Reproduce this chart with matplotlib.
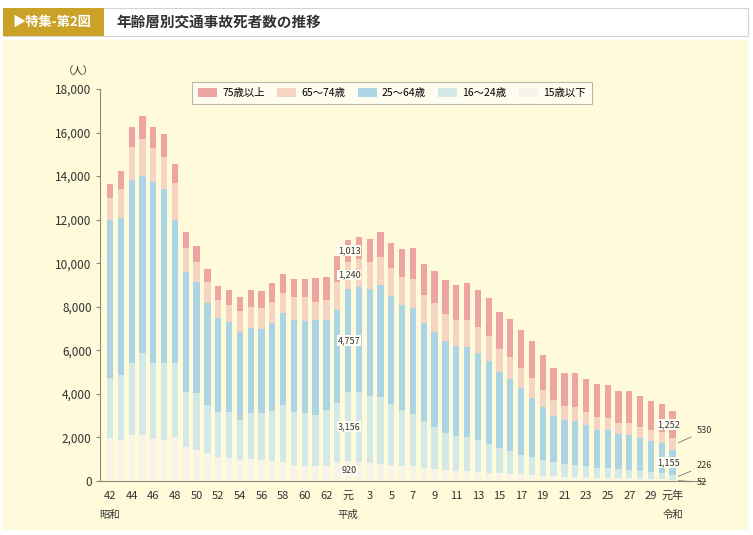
import numpy as np
import matplotlib
matplotlib.use("Agg")
import matplotlib.pyplot as plt
from matplotlib.patches import Rectangle

plt.rcParams['font.family'] = ['Noto Sans CJK JP', 'DejaVu Sans']

# 昭和42年(1967) ～ 令和元年(2019)
years = list(range(1967, 2020))

# 年齢層別死者数（人）
age_under15 = [1970, 1880, 2110, 2120, 1950, 1900, 2030, 1550, 1420, 1280,
               1100, 1050, 950, 1000, 950, 900, 850, 750, 700, 700,
               700, 850, 920, 870, 820, 790, 740, 700, 690, 600,
               560, 520, 480, 460, 420, 380, 350, 330, 300, 280,
               250, 230, 200, 200, 170, 160, 150, 130, 130, 110,
               100, 90, 52]
age_16_24 = [2760, 2990, 3310, 3760, 3470, 3500, 3390, 2550, 2620, 2210,
             2080, 2100, 1850, 2100, 2150, 2300, 2640, 2430, 2400, 2330,
             2550, 2750, 3156, 3200, 3100, 3050, 2800, 2550, 2400, 2150,
             1900, 1700, 1600, 1550, 1450, 1300, 1150, 1050, 900, 800,
             700, 620, 560, 550, 500, 450, 440, 400, 380, 350,
             320, 290, 226]
age_25_64 = [7250, 7200, 8400, 8120, 8320, 8000, 6560, 5510, 5110, 4680,
             4300, 4160, 4060, 3920, 3900, 4050, 4220, 4210, 4250, 4360,
             4140, 4250, 4757, 4850, 4900, 5150, 4950, 4850, 4850, 4500,
             4400, 4200, 4100, 4150, 4000, 3850, 3500, 3300, 3050, 2750,
             2450, 2150, 2050, 2000, 1900, 1750, 1730, 1620, 1600, 1500,
             1400, 1350, 1155]
age_65_74 = [1000, 1350, 1500, 1700, 1550, 1500, 1690, 1090, 920, 980,
             830, 790, 940, 980, 950, 950, 920, 1070, 1100, 840,
             910, 1300, 1240, 1260, 1230, 1300, 1280, 1290, 1350, 1300,
             1300, 1250, 1230, 1250, 1200, 1150, 1050, 1000, 950, 880,
             780, 700, 650, 640, 600, 580, 560, 530, 570, 540,
             540, 530, 530]
age_over75 = [638, 836, 937, 1065, 988, 1018, 904, 732, 722, 584,
              635, 683, 666, 760, 769, 873, 890, 802, 811, 1087,
              1047, 1194, 1013, 1047, 1059, 1162, 1172, 1259, 1394, 1393,
              1482, 1544, 1602, 1663, 1687, 1716, 1718, 1756, 1737, 1705,
              1616, 1509, 1519, 1558, 1521, 1498, 1508, 1433, 1437, 1404,
              1334, 1272, 1252]

series = [
    ("15歳以下", age_under15, "#F7F3E8"),
    ("16～24歳", age_16_24, "#D2E9E8"),
    ("25～64歳", age_25_64, "#ABD5E5"),
    ("65～74歳", age_65_74, "#F6D4C4"),
    ("75歳以上", age_over75, "#ECA5A2"),
]

tick_labels = {1967: "42", 1989: "元", 2019: "元年"}
for y in range(1969, 1988, 2):
    tick_labels[y] = str(y - 1925)
for y in range(1991, 2018, 2):
    tick_labels[y] = str(y - 1988)
era_labels = {1967: "昭和", 1989: "平成", 2019: "令和"}

W, H = 753, 535
fig = plt.figure(figsize=(W / 100, H / 100), dpi=100)
fig.patch.set_facecolor("white")

# ヘッダーと背景
fig.patches.append(Rectangle((3 / W, 1 - 530 / H), 745 / W, 490 / H,
                             transform=fig.transFigure, fc="#FFFADA", ec="none", zorder=0))
fig.patches.append(Rectangle((3 / W, 1 - 36 / H), 745 / W, 28 / H,
                             transform=fig.transFigure, fc="white", ec="#D8D4C8", lw=0.8, zorder=0))
fig.patches.append(Rectangle((3 / W, 1 - 36 / H), 101 / W, 28 / H,
                             transform=fig.transFigure, fc="#C9A227", ec="none", zorder=1))
fig.text(12 / W, 1 - 22 / H, "▶特集-第2図", color="white", fontsize=9.5,
         fontweight="bold", va="center", ha="left")
fig.text(116 / W, 1 - 22 / H, "年齢層別交通事故死者数の推移", color="#333333",
         fontsize=10.5, fontweight="bold", va="center", ha="left")

ax = fig.add_axes([100 / W, 1 - 481 / H, 605 / W, 392 / H])
ax.set_facecolor("none")
ax.set_zorder(3)

x = np.arange(len(years))
bottom = np.zeros(len(years))
bars = {}
for name, vals, color in series:
    vals = np.array(vals, dtype=float)
    bars[name] = ax.bar(x, vals, width=0.58, bottom=bottom, color=color,
                        edgecolor="none", label=name, zorder=2)
    bottom = bottom + vals

ax.set_xlim(-0.93, 55.0)
ax.set_ylim(0, 18000)
ax.set_yticks(np.arange(0, 18001, 2000))
ax.set_yticklabels([f"{v:,}" for v in range(0, 18001, 2000)])
ax.set_xticks(x)
ax.set_xticklabels([tick_labels.get(y, "") for y in years])
ax.tick_params(axis="x", direction="in", length=3, color="#8A8A70", labelsize=8,
               labelcolor="#333333", pad=7)
ax.tick_params(axis="y", direction="out", length=3, color="#8A8A70", labelsize=8.5,
               labelcolor="#333333", pad=3)
for s in ["top", "right"]:
    ax.spines[s].set_visible(False)
for s in ["left", "bottom"]:
    ax.spines[s].set_color("#8A8A70")
    ax.spines[s].set_linewidth(0.8)

for y, lab in era_labels.items():
    ax.text(years.index(y), -0.087, lab, transform=ax.get_xaxis_transform(),
            ha="center", va="center", fontsize=7.5, color="#333333")
ax.text(-0.035, 1.045, "（人）", transform=ax.transAxes, ha="center", va="center",
        fontsize=7.5, color="#333333")

# 平成元年の内訳
i89 = years.index(1989)
base = 0
for name, vals, color in series:
    v = vals[i89]
    ax.text(i89 + 0.1, base + v / 2, f"{v:,}", ha="center", va="center", fontsize=6.5,
            color="#333333", zorder=4,
            bbox=dict(fc="#FFFDF3", ec="none", pad=0.6))
    base += v

# 令和元年の内訳
i19 = years.index(2019)
stack = np.cumsum([0] + [s[1][i19] for s in series])
mids = (stack[:-1] + stack[1:]) / 2
for k in (2, 4):
    ax.text(i19 - 0.4, mids[k], f"{series[k][1][i19]:,}", ha="center", va="center",
            fontsize=6.5, color="#333333", zorder=4,
            bbox=dict(fc="#FFFDF3", ec="none", pad=0.6))
for k, ty in ((3, 2300), (1, 700), (0, -60)):
    ax.annotate(f"{series[k][1][i19]:,}", xy=(i19 + 0.3, mids[k]),
                xytext=(i19 + 2.2, ty), ha="left", va="center", fontsize=6.5,
                color="#333333", annotation_clip=False,
                arrowprops=dict(arrowstyle="-", color="#777777", lw=0.6))

handles = [bars[s[0]] for s in reversed(series)]
leg = fig.legend(handles, [s[0] for s in reversed(series)], ncol=5,
                 loc="center", bbox_to_anchor=(392 / W, 1 - 93 / H),
                 fontsize=7.5, frameon=True, fancybox=False, edgecolor="#A8A8A0",
                 handlelength=1.8, handleheight=1.0, columnspacing=1.2,
                 handletextpad=0.5, borderpad=0.6)
leg.get_frame().set_facecolor("#FFFEF6")
leg.get_frame().set_linewidth(0.8)
leg.set_zorder(6)

fig.savefig("out.png", dpi=100, facecolor=fig.get_facecolor())
